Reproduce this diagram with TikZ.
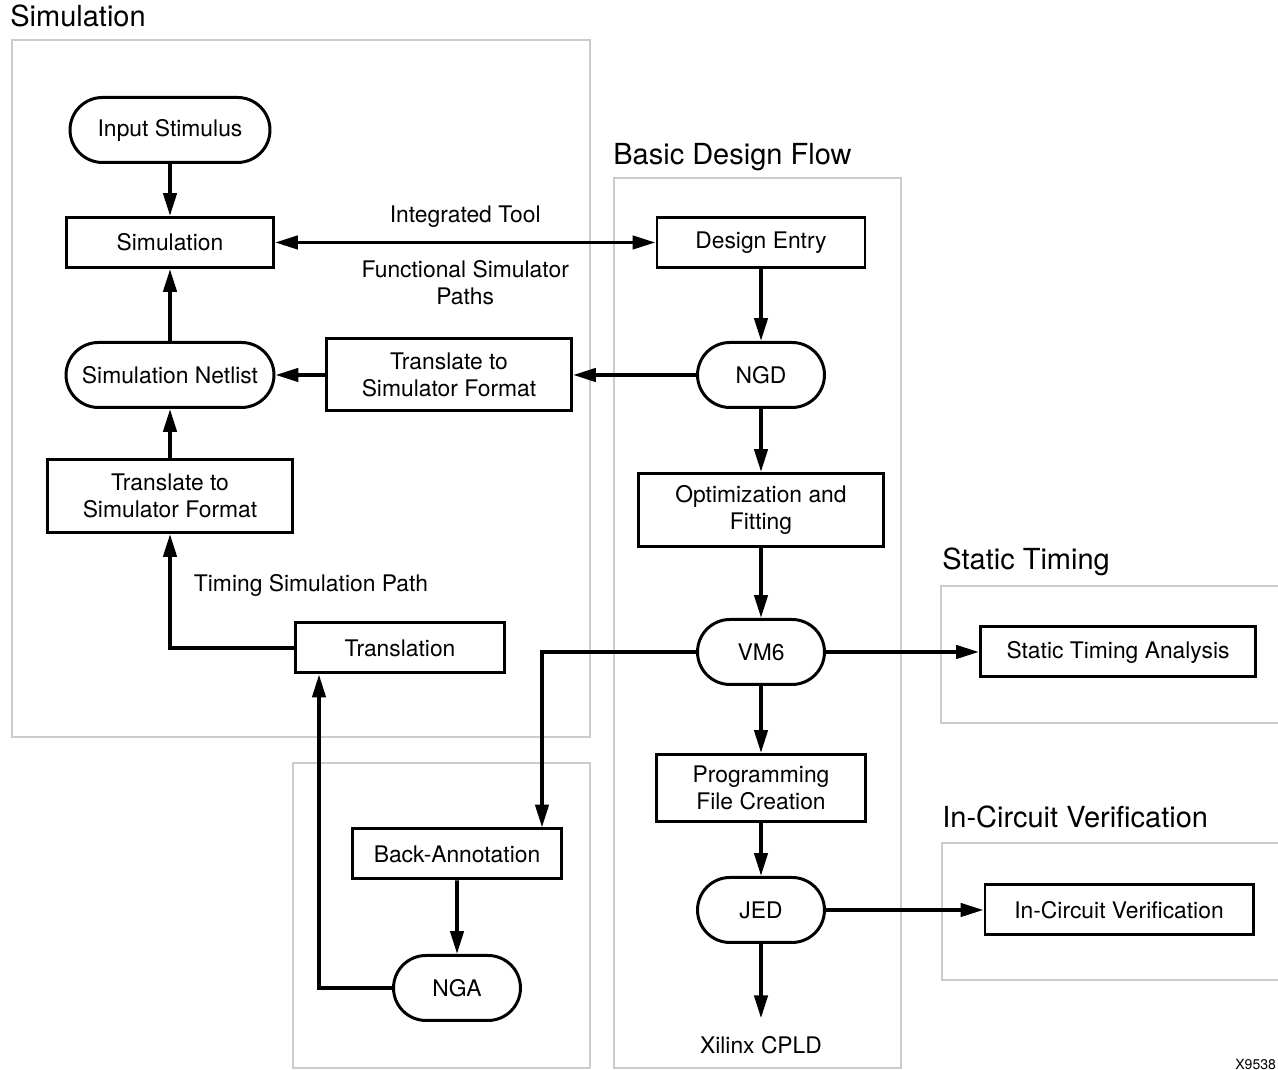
\documentclass[tikz,border=0pt]{standalone}
\usepackage{fontspec}
\setmainfont{TeX Gyre Heros}
\usepackage{tikz}
\usetikzlibrary{arrows.meta,shapes.misc}
\definecolor{framegray}{RGB}{204,204,204}
\newcommand{\boxfont}{\fontsize{13}{15}\selectfont}
\newcommand{\headfont}{\fontsize{16.5}{20}\selectfont}
\tikzstyle{arrow} = [-{Triangle[length=13pt,width=7.5pt]},line width=2.1pt]
\tikzstyle{biarrow} = [{Triangle[length=13pt,width=7.5pt]}-{Triangle[length=13pt,width=7.5pt]},line width=2.1pt]
\tikzstyle{box} = [draw,line width=1.7pt,align=center,font=\boxfont,minimum height=1cm,inner sep=2pt]
\tikzstyle{term} = [box,rounded rectangle,minimum height=1.3cm,minimum width=2.68cm]
\tikzstyle{group} = [draw=framegray,line width=1.4pt]
\tikzstyle{head} = [anchor=base west,inner sep=0pt,font=\headfont]
\tikzstyle{note} = [align=center,font=\boxfont]

\begin{document}
\begin{tikzpicture}
          \useasboundingbox (0,0) rectangle (25.56,21.4);
          \clip (0,0) rectangle (25.56,21.4);

          % frames
          \draw[group] (0.24,20.60) rectangle (11.80,6.66);
          \draw[group] (12.28,17.84) rectangle (18.02,0.04);
          \draw[group] (5.86,6.14) rectangle (11.80,0.04);
          \draw[group] (18.82,9.68) rectangle (25.70,6.94);
          \draw[group] (18.84,4.54) rectangle (25.70,1.80);
          \node[head] at (0.20,20.86) (HS) {Simulation};
          \node[head] at (12.26,18.10) (HB) {Basic Design Flow};
          \node[head] at (18.84,10.00) (HT) {Static Timing};
          \node[head] at (18.84,4.84) (HV) {In-Circuit Verification};

          % simulation
          \node[term, minimum width=4.14cm] at (3.40,18.80) (IN) {Input Stimulus};
          \node[box, minimum width=4.14cm] at (3.40,16.55) (SIM) {Simulation};
          \node[term, minimum width=4.30cm] at (3.40,13.90) (NET) {Simulation Netlist};
          \node[box, minimum width=4.90cm, minimum height=1.46cm] at (3.40,11.48) (TSL) {Translate to\\Simulator Format};
          \node[box, minimum width=4.90cm, minimum height=1.44cm] at (8.98,13.90) (TSM) {Translate to\\Simulator Format};
          \node[box, minimum width=4.18cm] at (8.00,8.44) (TRN) {Translation};
          \node[note] at (6.22,9.70) (TSP) {Timing Simulation Path};

          % design flow
          \node[box, minimum width=4.16cm] at (15.22,16.55) (DE) {Design Entry};
          \node[term] at (15.22,13.90) (NGD) {NGD};
          \node[box, minimum width=4.90cm, minimum height=1.46cm] at (15.22,11.20) (OPT) {Optimization and\\Fitting};
          \node[term] at (15.22,8.36) (VM6) {VM6};
          \node[box, minimum width=4.18cm, minimum height=1.34cm] at (15.22,5.64) (PFC) {Programming\\File Creation};
          \node[term] at (15.22,3.20) (JED) {JED};
          \node[note, inner ysep=10pt] at (15.22,0.50) (CPLD) {Xilinx CPLD};

          % back-annotation
          \node[box, minimum width=4.18cm] at (9.14,4.32) (BA) {Back-Annotation};
          \node[term] at (9.14,1.64) (NGA) {NGA};

          % timing and verification
          \node[box, minimum width=5.50cm] at (22.36,8.36) (STA) {Static Timing Analysis};
          \node[box, minimum width=5.36cm] at (22.38,3.20) (ICV) {In-Circuit Verification};

          \node[anchor=west, inner sep=0pt, font=\fontsize{8}{9}\selectfont] at (24.70,0.12) (XN) {X9538};

          \draw[arrow] (IN) -- (SIM);
          \draw[biarrow] (SIM) -- (DE) node[note, midway, yshift=0.52cm]{Integrated Tool}
                node[note, midway, yshift=-0.80cm]{Functional Simulator\\Paths};
          \draw[arrow] (DE) -- (NGD);
          \draw[arrow] (NGD) -- (TSM);
          \draw[arrow] (TSM) -- (NET);
          \draw[arrow] (NET) -- (SIM);
          \draw[arrow] (TSL) -- (NET);
          \draw[arrow] (TRN.west) -| (TSL.south);
          \draw[arrow] (NGD) -- (OPT);
          \draw[arrow] (OPT) -- (VM6);
          \draw[arrow] (VM6) -- (PFC);
          \draw[arrow] (PFC) -- (JED);
          \draw[arrow] (JED) -- (CPLD);
          \draw[arrow] (VM6) -- (STA);
          \draw[arrow] (JED) -- (ICV);
          \draw[arrow] (VM6) -| ([xshift=1.70cm]BA.north);
          \draw[arrow] (BA) -- (NGA);
          \draw[arrow] (NGA) -| ([xshift=-1.62cm]TRN.south);
        \end{tikzpicture}
\end{document}
